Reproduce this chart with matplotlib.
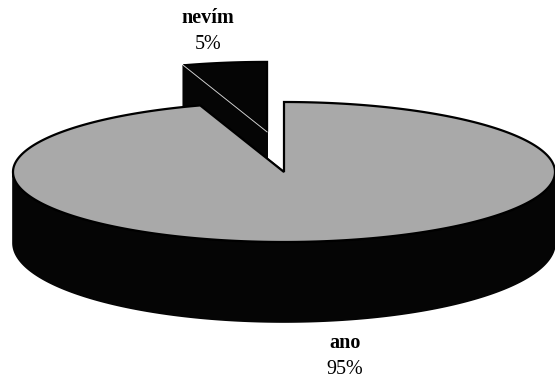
import numpy as np
import matplotlib.pyplot as plt
from matplotlib.patches import Polygon

labels = ["ano", "nevím"]
values = [95, 5]
explode = [0.0, 1.0]
face_colors = ["#a9a9a9", "#050505"]
side_color = "#050505"

# pie geometry, in pixels of the 555x380 canvas
CX, RX = 284, 271
TOP_Y, TOP_RY = 172, 70
BOT_Y, BOT_RY = 243, 79
SHIFT_X, SHIFT_Y = 0.4, 0.58


def ring(theta, level, shift):
    t = np.radians(np.atleast_1d(theta))
    cy, ry = (TOP_Y, TOP_RY) if level == "top" else (BOT_Y, BOT_RY)
    return np.column_stack([CX + RX * np.cos(t) + shift[0],
                            cy - ry * np.sin(t) + shift[1]])


def hub(level, shift):
    cy = TOP_Y if level == "top" else BOT_Y
    return np.array([[CX + shift[0], cy + shift[1]]])


fig = plt.figure(figsize=(5.55, 3.8), dpi=100)
ax = fig.add_axes([0, 0, 1, 1])
ax.set_xlim(0, 555)
ax.set_ylim(380, 0)
ax.axis("off")

# slices run clockwise from 12 o'clock
total = sum(values)
bounds = []
start = 90.0
for v in values:
    end = start - 360.0 * v / total
    bounds.append((start, end))
    start = end

slices = []
for i, (t0, t1) in enumerate(bounds):
    mid = np.radians((t0 + t1) / 2)
    shift = (explode[i] * SHIFT_X * RX * np.cos(mid),
             -explode[i] * SHIFT_Y * TOP_RY * np.sin(mid))
    slices.append((i, t0, t1, shift))

# back slices first, so the big slice covers them
order = sorted(slices, key=lambda s: s[3][1])
for i, t0, t1, shift in order:
    arc = np.linspace(t0, t1, 400)
    # cut faces
    for t in (t0, t1):
        quad = np.vstack([hub("top", shift), ring(t, "top", shift),
                          ring(t, "bot", shift), hub("bot", shift)])
        ax.add_patch(Polygon(quad, closed=True, facecolor=side_color,
                             edgecolor=side_color, lw=1.2))
    # outer wall, front half only
    lo, hi = min(t0, t1), max(t0, t1)
    for k in range(-2, 2):
        a0, a1 = max(lo, 180 + 360 * k), min(hi, 360 + 360 * k)
        if a1 > a0:
            seg = np.linspace(a0, a1, 300)
            wall = np.vstack([ring(seg, "top", shift),
                              ring(seg[::-1], "bot", shift)])
            ax.add_patch(Polygon(wall, closed=True, facecolor=side_color,
                                 edgecolor=side_color, lw=1.2))
    # top face
    top = np.vstack([hub("top", shift), ring(arc, "top", shift)])
    ax.add_patch(Polygon(top, closed=True, facecolor=face_colors[i],
                         edgecolor="black", lw=1.6, joinstyle="miter"))
    if face_colors[i] == side_color:
        # light crease between the dark top and its cut face
        edge = np.vstack([hub("top", shift), ring(t0, "top", shift)])
        ax.plot(edge[:, 0], edge[:, 1], color="#cfcfcf", lw=0.7)

text_font = dict(family=["Liberation Serif", "DejaVu Serif"], fontsize=14.5,
                 ha="center", va="baseline", color="black")
label_pos = {"nevím": (208, 23), "ano": (345, 348)}
for name, v in zip(labels, values):
    x, y = label_pos[name]
    ax.text(x, y, name, fontweight="bold", **text_font)
    ax.text(x, y + 26, f"{v}%", **text_font)

fig.savefig("out.png", dpi=100)
